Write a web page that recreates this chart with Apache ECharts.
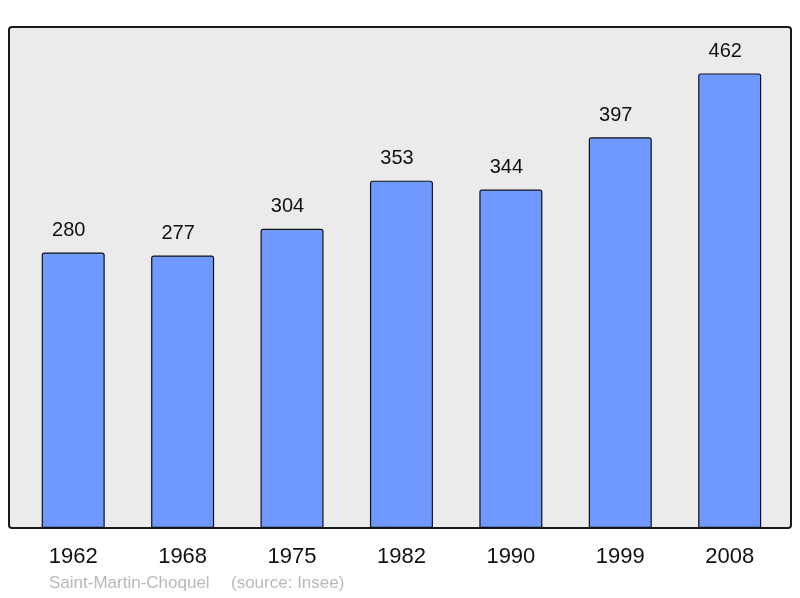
<!DOCTYPE html>
<html>
<head>
<meta charset="utf-8">
<script src="https://cdn.jsdelivr.net/npm/echarts@6/dist/echarts.min.js"></script>
<style>
  html, body { margin: 0; padding: 0; background: #fff; }
  #main { width: 800px; height: 598px; }
</style>
</head>
<body>
<div id="main"></div>
<script>
var years = ['1962', '1968', '1975', '1982', '1990', '1999', '2008'];
var population = [280, 277, 304, 353, 344, 397, 462];
var commune = 'Saint-Martin-Choquel';
var source = '(source: Insee)';

var chart = echarts.init(document.getElementById('main'));

chart.setOption({
    animation: false,
    backgroundColor: '#ffffff',
    textStyle: { fontFamily: 'Liberation Sans, Arial, sans-serif' },
    graphic: [
        {
            type: 'rect',
            z: 0,
            shape: { x: 9, y: 27, width: 782, height: 501, r: 3 },
            style: { fill: '#ebebeb', stroke: '#1a1a1a', lineWidth: 2 }
        },
        {
            type: 'text',
            left: 49,
            top: 575,
            style: {
                text: commune,
                fill: '#b8b8b8',
                fontSize: 17,
                fontFamily: 'Liberation Sans, Arial, sans-serif'
            }
        },
        {
            type: 'text',
            left: 231,
            top: 575,
            style: {
                text: source,
                fill: '#b8b8b8',
                fontSize: 17,
                fontFamily: 'Liberation Sans, Arial, sans-serif'
            }
        }
    ],
    grid: { left: 18.5, right: 15.6, top: 36, bottom: 70 },
    xAxis: {
        type: 'category',
        data: years,
        axisLine: { show: false },
        axisTick: { show: false },
        axisLabel: { color: '#111', fontSize: 22, margin: 18 }
    },
    yAxis: {
        type: 'value',
        min: 0,
        max: 500,
        show: false,
        splitLine: { show: false }
    },
    series: [{
        type: 'bar',
        data: population,
        barWidth: 63,
        z: 2,
        itemStyle: {
            color: '#7099ff',
            borderColor: '#111',
            borderWidth: 1.2,
            borderRadius: [2, 2, 0, 0]
        },
        label: {
            show: true,
            position: 'top',
            distance: 12,
            offset: [-4.5, 0],
            color: '#111',
            fontSize: 20
        }
    }]
});
</script>
</body>
</html>
